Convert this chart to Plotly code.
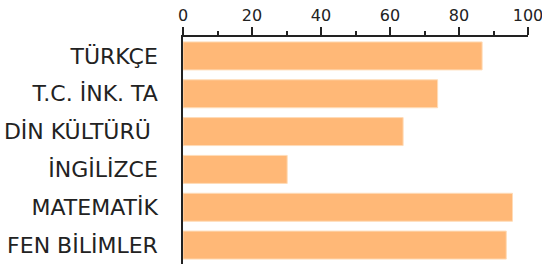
import plotly.graph_objects as go

categories = ["TÜRKÇE", "T.C. İNK. TA", "DİN KÜLTÜRÜ\u00a0", "İNGİLİZCE", "MATEMATİK", "FEN BİLİMLER"]
values = [86.7, 73.8, 63.8, 30.2, 95.5, 93.7]
tick_vals = [0, 20, 40, 60, 80, 100]

fig = go.Figure(go.Bar(
    x=values, y=categories, orientation="h",
    marker=dict(color="#ffb877", line=dict(color="#ffdcb8", width=1)),
    cliponaxis=False, hoverinfo="skip",
))

fig.update_layout(
    width=542, height=266,
    margin=dict(l=183, r=14, t=37, b=2, autoexpand=False),
    paper_bgcolor="white", plot_bgcolor="white",
    bargap=0.26, showlegend=False,
    font=dict(family="DejaVu Sans", color="#222222"),
)
fig.update_xaxes(
    side="top", range=[0, 100], tickvals=tick_vals,
    showline=True, linecolor="#222222", linewidth=1.5,
    ticks="outside", ticklen=8, tickwidth=1.5, tickcolor="#222222",
    minor=dict(dtick=10, ticks="outside", ticklen=4, tickwidth=1.5, tickcolor="#222222"),
    showgrid=False, zeroline=False, automargin=False,
    ticklabeloverflow="allow",
    tickfont=dict(size=16, color="#222222"),
)
fig.update_yaxes(
    autorange="reversed",
    showline=True, linecolor="#222222", linewidth=1.5,
    ticks="", showgrid=False, zeroline=False, automargin=False,
    ticklabelstandoff=19,
    tickfont=dict(size=22, color="#222222"),
)

fig.write_html(
    "out.html",
    config={"displayModeBar": False},
    post_script="document.body.style.margin='0';document.body.style.overflow='hidden';",
)
